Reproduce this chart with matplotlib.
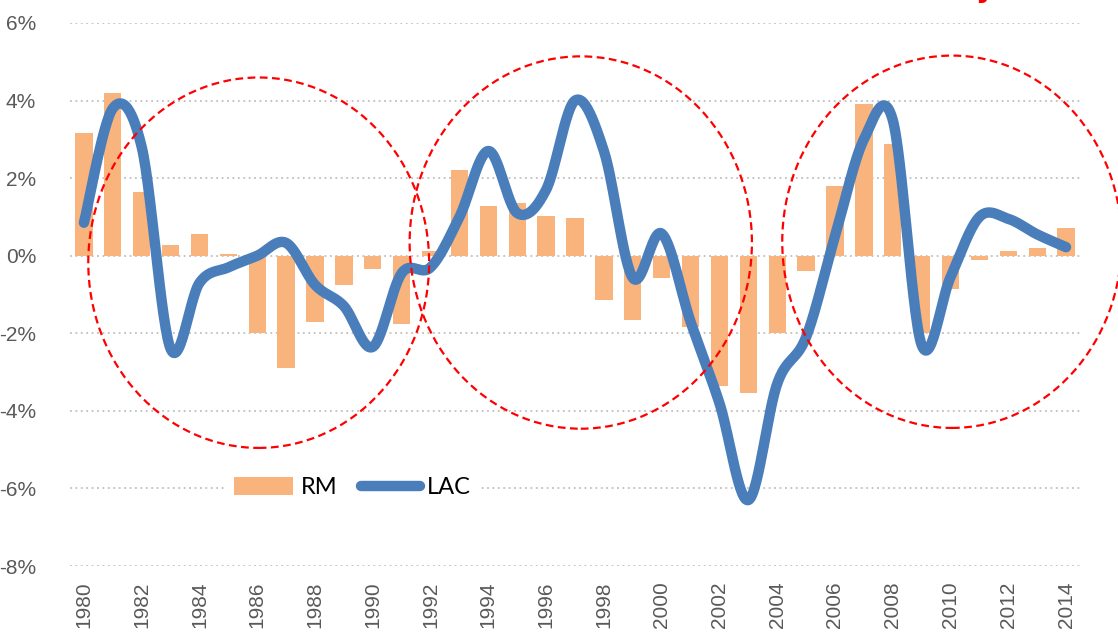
import numpy as np
import matplotlib
matplotlib.use('Agg')
import matplotlib.pyplot as plt
from matplotlib.patches import Ellipse, Patch
from matplotlib.lines import Line2D

years = list(range(1980, 2015))

# RM growth (%) - bars
rm = [3.17, 4.2, 1.63, 0.27, 0.55, 0.05, -2.0, -2.9, -1.72, -0.75,
      -0.33, -1.75, 0.13, 2.22, 1.27, 1.35, 1.03, 0.97, -1.13, -1.65,
      -0.58, -1.85, -3.35, -3.53, -2.0, -0.4, 1.8, 3.92, 2.88, -2.0,
      -0.85, -0.1, 0.13, 0.2, 0.72]

# LAC growth (%) - smoothed line
lac = [0.85, 3.8, 2.8, -2.4, -0.7, -0.3, 0.0, 0.33, -0.75, -1.3,
       -2.35, -0.45, -0.3, 1.0, 2.7, 1.1, 1.7, 4.0, 2.7, -0.57,
       0.57, -1.7, -3.8, -6.3, -3.3, -2.1, 0.5, 3.0, 3.5, -2.3,
       -0.55, 1.0, 0.95, 0.55, 0.22]

yticks = [-8, -6, -4, -2, 0, 2, 4, 6]
xticks = list(range(1980, 2015, 2))

# cycle highlights: centre year, centre %, width (years), height (%)
cycles = [(1986.05, -0.18, 11.8, 9.55),
          (1997.2, 0.34, 11.85, 9.6),
          (2010.05, 0.36, 11.75, 9.6)]

def smooth(x, y, n=30):
    '''catmull-rom style smoothing like the excel smoothed line'''
    x = np.asarray(x, float)
    y = np.asarray(y, float)
    px = np.concatenate([[x[0]], x, [x[-1]]])
    py = np.concatenate([[y[0]], y, [y[-1]]])
    xs, ys = [], []
    t = np.linspace(0, 1, n)
    for i in range(1, len(px) - 2):
        p0, p1, p2, p3 = (np.array([px[j], py[j]]) for j in range(i - 1, i + 3))
        c1 = p1 + (p2 - p0) / 6
        c2 = p2 - (p3 - p1) / 6
        b = ((1 - t) ** 3)[:, None] * p1 + (3 * (1 - t) ** 2 * t)[:, None] * c1 \
            + (3 * (1 - t) * t ** 2)[:, None] * c2 + (t ** 3)[:, None] * p2
        xs.extend(b[:, 0])
        ys.extend(b[:, 1])
    return np.array(xs), np.array(ys)

fig = plt.figure(figsize=(11.18, 6.34), dpi=100)
ax = fig.add_axes([69.5 / 1118, 1 - 566 / 634, 1011 / 1118, 543 / 634])

bar_col = '#F8B47C'
line_col = '#4A7EBB'

ax.bar(years, rm, width=0.6, color=bar_col, zorder=2)
sx, sy = smooth(years, lac)
ax.plot(sx, sy, color=line_col, lw=7.5, solid_capstyle='round', zorder=3)

for cx, cy, w, h in cycles:
    ax.add_patch(Ellipse((cx, cy), w, h, fill=False, edgecolor='#FF0000',
                         lw=1.6, ls=(0, (3.5, 2)), zorder=4, clip_on=False))

ax.set_xlim(1979.5, 2014.5)
ax.set_ylim(-8, 6)
ax.set_yticks(yticks)
ax.set_yticklabels(['%d%%' % v for v in yticks])
ax.set_xticks(xticks)
ax.set_xticklabels([str(v) for v in xticks], rotation=90)
for lab in ax.get_yticklabels():
    lab.set_fontfamily('Liberation Sans')
for lab in ax.get_xticklabels():
    lab.set_fontfamily('Liberation Sans')
ax.tick_params(axis='y', length=0, pad=24, labelsize=15, labelcolor='#595959')
ax.tick_params(axis='x', length=0, pad=11, labelsize=15, labelcolor='#595959')
ax.grid(axis='y', color='#BFBFBF', ls=(0, (1, 2)), lw=1.3, zorder=0)
ax.set_axisbelow(True)
for s in ax.spines.values():
    s.set_visible(False)

handles = [Patch(facecolor=bar_col, edgecolor='none'),
           Line2D([0], [0], color=line_col, lw=7.5, solid_capstyle='round')]
leg = ax.legend(handles, ['RM', 'LAC'], ncol=2, loc='center',
                bbox_to_anchor=(0.28, 0.144), frameon=True, facecolor='white',
                edgecolor='none', framealpha=1, fancybox=False,
                prop={'family': 'Lato', 'size': 17}, handlelength=2.5,
                handleheight=0.75, handletextpad=0.3, columnspacing=1.0,
                borderpad=0.3)
leg.set_zorder(5)

# title clipped at the top edge, as in the source image
fig.text(1108 / 1118, 1 + 3 / 634, 'Business cycle (%)', color='#FF0000',
         fontsize=21, fontweight='bold', ha='right', va='baseline')

fig.savefig('out.png', dpi=100)
